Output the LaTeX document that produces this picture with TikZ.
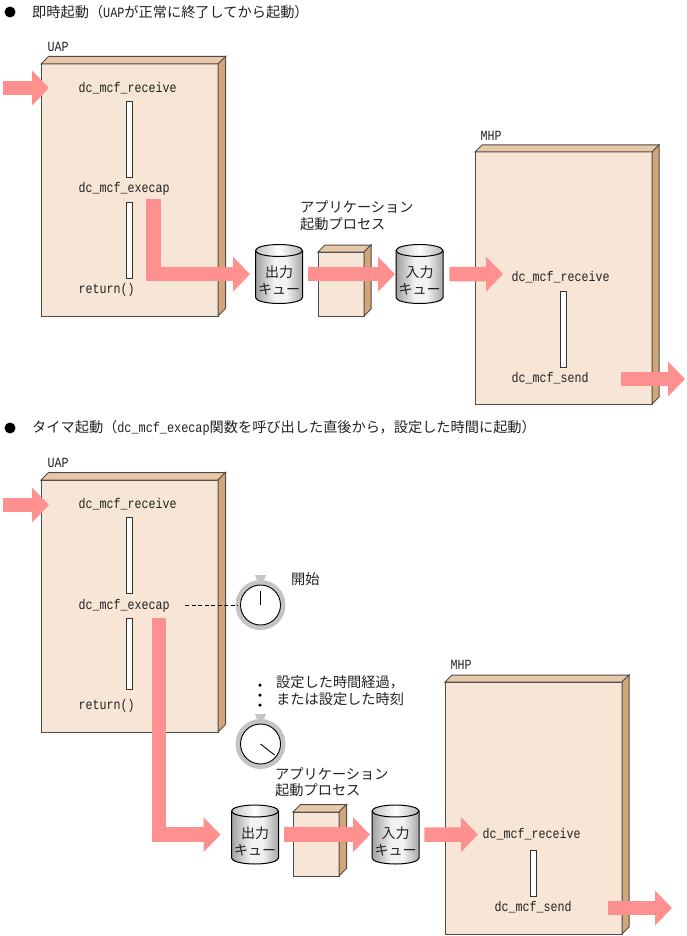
\documentclass[tikz,border=0pt]{standalone}
\usepackage{fontspec}
\setmainfont{Noto Sans CJK JP}
\newfontfamily\mn[FakeStretch=0.833]{Liberation Mono}
\usetikzlibrary{arrows.meta,calc}
\definecolor{fronth}{HTML}{F7E6D6}
\definecolor{sideh}{HTML}{D2A679}
\definecolor{toph}{HTML}{E8C8A8}
\definecolor{pinkh}{HTML}{FF9090}
\definecolor{inkh}{HTML}{222222}
\definecolor{ringh}{HTML}{C4C4C4}
\pgfdeclarehorizontalshading{drumh}{100bp}{color(0bp)=(gray!75);color(25bp)=(gray!75);color(45bp)=(white!90!gray);color(58bp)=(white!90!gray);color(75bp)=(gray!70);color(100bp)=(gray!70)}
\pgfdeclarehorizontalshading{lidh}{100bp}{color(0bp)=(gray!50);color(25bp)=(gray!50);color(50bp)=(white);color(75bp)=(gray!60);color(100bp)=(gray!60)}
\tikzset{
  fat/.style={draw=pinkh,line width=14.5pt,line cap=butt,line join=miter,
     -{Triangle[length=17pt,width=34pt,fill=pinkh]}},
  front/.style={draw=black!70,line width=1pt,fill=fronth,inner sep=0pt,outer sep=0pt,rectangle},
  lbl/.style={anchor=west,inner sep=0pt,text=inkh,font=\fontsize{14.2}{16}\selectfont},
  code/.style={anchor=west,inner sep=0pt,xshift=-0.5pt,yshift=-0.5pt,text=inkh,font=\mn\fontsize{14}{16}\selectfont},
  barh/.style={draw=black!80,line width=0.9pt,fill=white,inner sep=0pt,outer sep=0pt,rectangle,minimum width=6pt},
  qtxt/.style={inner sep=0pt,align=center,text=inkh,font=\fontsize{14}{17}\selectfont,minimum width=47pt,minimum height=59pt},
  dotb/.style={circle,fill=black,inner sep=0pt},
}
% name, x, y (north west), w, h, depth
\newcommand{\solidh}[6]{%
  \node[front,anchor=north west,minimum width=#4pt,minimum height=#5pt] (#1) at (#2,#3) {};
  \draw[draw=black!70,line width=1pt,fill=toph] (#1.north west) -- ++(#6,-#6) -- ($(#1.north east)+(#6,-#6)$) -- (#1.north east) -- cycle;
  \draw[draw=black!70,line width=1pt,fill=sideh] (#1.north east) -- ++(#6,-#6) -- ($(#1.south east)+(#6,-#6)$) -- (#1.south east) -- cycle;
}
% name, x, y(top), text
\newcommand{\drumh}[4]{%
  \path[shade,shading=drumh] (#2,#3+6) -- (#2,#3+53) arc[start angle=180,end angle=0,x radius=23.5,y radius=6] -- (#2+47,#3+6) -- cycle;
  \draw[black,line width=1pt] (#2,#3+6) -- (#2,#3+53) arc[start angle=180,end angle=0,x radius=23.5,y radius=6] -- (#2+47,#3+6);
  \draw[black,line width=1pt,shade,shading=lidh] (#2+23.5,#3+6) ellipse[x radius=23.5,y radius=6];
  \node[qtxt,anchor=north west] (#1) at (#2,#3) {\rule{0pt}{8pt}\\[0pt]#4};
}
% name, cx, cy
\newcommand{\clockh}[3]{%
  \fill[ringh] (#2-3.5,#3-25) -- (#2+3.5,#3-25) -- (#2+5.5,#3-30) -- (#2-5.5,#3-30) -- cycle;
  \node[circle,draw=ringh,line width=5pt,minimum size=45pt,inner sep=0pt,outer sep=0pt,fill=white] (#1) at (#2,#3) {};
  \draw[black,line width=0.9pt] (#1) circle[radius=20];
}
\begin{document}
\begin{tikzpicture}[x=1pt,y=-1pt]
\useasboundingbox (0,0) rectangle (687,936);
% ---------- section 1
\node[dotb,minimum size=11pt] (b1) at (10,12) {};
\node[lbl] (t1) at (32,12) {即時起動（{\mn UAP}が正常に終了してから起動）};
\node[code] (uapa) at (48,46) {UAP};
\solidh{ua}{41}{64}{177}{252}{7.5}
\node[code] (ra) at (79,88) {dc\_mcf\_receive};
\node[barh,minimum height=76pt,anchor=north] (ba1) at (129.5,101) {};
\node[code] (ea) at (79,188) {dc\_mcf\_execap};
\node[barh,minimum height=76pt,anchor=north] (ba2) at (129.5,202) {};
\node[code] (rta) at (79,289) {return()};
\coordinate (ia) at (3,88);
\coordinate (ib) at (49,88);
\draw[fat] (ia) -- (ib);
\drumh{oa}{255.5}{244.5}{出力\\キュー}
\solidh{pa}{318}{252}{46}{64}{7}
\drumh{qa}{396}{244.5}{入力\\キュー}
\coordinate (xa) at (153.5,199);
\draw[fat,shorten >=5.5pt] (xa) |- (oa.west);
\draw[fat,shorten <=5.5pt,shorten >=1pt] (oa.east) -- (qa.west);
\node[lbl] (apa) at (300,207) {アプリケーション};
\node[lbl] (apb) at (300,224) {起動プロセス};
\node[code] (mhpa) at (481,135) {MHP};
\solidh{ma}{475}{152}{177}{252}{7}
\coordinate (mi) at (503,274);
\draw[fat,shorten <=6pt] (qa.east) -- (mi);
\node[code] (rb) at (512,277) {dc\_mcf\_receive};
\node[barh,minimum height=76pt,anchor=north] (bb) at (563,291) {};
\node[code] (sb) at (512,378) {dc\_mcf\_send};
\coordinate (oa1) at (621,379);
\coordinate (oa2) at (685,379);
\draw[fat] (oa1) -- (oa2);
% ---------- section 2
\node[dotb,minimum size=11pt] (b2) at (10,428) {};
\node[lbl] (t2) at (32,428) {タイマ起動（{\mn dc\_mcf\_execap}関数を呼び出した直後から，設定した時間に起動）};
\node[code] (uapb) at (48,462) {UAP};
\solidh{ub}{41}{480}{177}{252}{7.5}
\node[code] (rc) at (79,504) {dc\_mcf\_receive};
\node[barh,minimum height=76pt,anchor=north] (bc1) at (129.5,517) {};
\node[code] (ec) at (79,605) {dc\_mcf\_execap};
\node[barh,minimum height=71pt,anchor=north] (bc2) at (129.5,618) {};
\node[code] (rtc) at (79,705) {return()};
\coordinate (ic) at (3,505);
\coordinate (id) at (49,505);
\draw[fat] (ic) -- (id);
\clockh{ca}{260.5}{605}
\clockh{cb}{260.5}{744}
\draw[black,line width=0.9pt] (ca.center) -- ++(0,-14.5);
\draw[black,line width=0.9pt] (cb.center) -- ++(14,11);
\coordinate (dash) at (185,605);
\draw[black,line width=1pt,dashed,dash pattern=on 4pt off 2.5pt] (dash) -- (ca.west);
\node[lbl] (kaishi) at (291,579) {開始};
\node[dotb,minimum size=3.5pt] (d1) at (260,685) {};
\node[dotb,minimum size=3.5pt] (d2) at (260,695) {};
\node[dotb,minimum size=3.5pt] (d3) at (260,705) {};
\node[lbl] (sa) at (276,682) {設定した時間経過，};
\node[lbl] (sc) at (276,699) {または設定した時刻};
\drumh{oc}{231.5}{805}{出力\\キュー}
\solidh{pc}{293}{812}{46}{64}{7.5}
\drumh{qc}{372}{805}{入力\\キュー}
\coordinate (xc) at (159,618);
\draw[fat,shorten >=11pt] (xc) |- (oc.west);
\draw[fat,shorten <=5pt,shorten >=2pt] (oc.east) -- (qc.west);
\node[lbl] (apc) at (275,774) {アプリケーション};
\node[lbl] (apd) at (275,790) {起動プロセス};
\node[code] (mhpc) at (451,664) {MHP};
\solidh{mc}{445}{682}{177}{252}{7}
\coordinate (mj) at (478,834.5);
\draw[fat,shorten <=5pt] (qc.east) -- (mj);
\node[code] (rd) at (483,834) {dc\_mcf\_receive};
\node[barh,minimum height=46pt,anchor=north] (bd) at (533,850) {};
\node[code] (sd) at (495,907) {dc\_mcf\_send};
\coordinate (oc1) at (608,908);
\coordinate (oc2) at (672,908);
\draw[fat] (oc1) -- (oc2);
\end{tikzpicture}
\end{document}
